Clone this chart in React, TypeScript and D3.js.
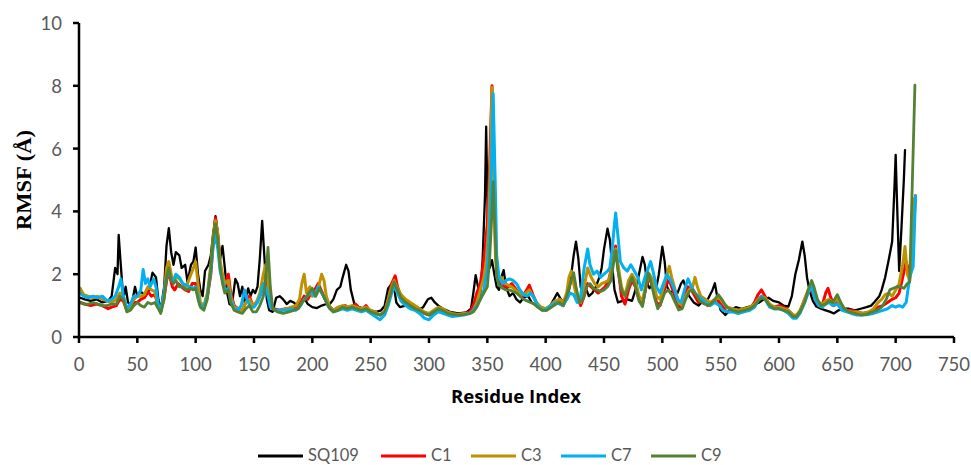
import React from "react";
import * as d3 from "d3";

type Pt = [number, number];

const xTicks = [0, 50, 100, 150, 200, 250, 300, 350, 400, 450, 500, 550, 600, 650, 700, 750];
const yTicks = [0, 2, 4, 6, 8, 10];

const seriesNames = ["SQ109", "C1", "C3", "C7", "C9"];
const seriesColors = ["#000000", "#FF0000", "#BF9000", "#00B0F0", "#548235"];

const sq109: Pt[] = [[1,1.25],[5,1.2],[10,1.15],[15,1.2],[20,1.1],[25,1.15],[28,1.3],[31,2.2],[33,2.0],[34,3.25],[36,2.2],[38,1.2],[40,1.6],[42,1.1],[45,1.0],[48,1.6],[50,1.3],[53,1.45],[57,1.3],[60,1.5],[63,2.05],[66,1.9],[68,1.2],[70,0.85],[73,1.6],[75,2.9],[77,3.47],[79,2.7],[81,2.3],[83,2.7],[86,2.6],[88,2.2],[91,2.3],[93,1.75],[96,2.3],[98,2.4],[100,2.85],[102,2.0],[104,1.5],[106,1.3],[108,2.1],[111,2.3],[113,2.6],[115,3.3],[117,3.85],[119,3.3],[121,2.5],[123,2.9],[125,2.2],[127,1.4],[129,1.05],[131,1.0],[134,1.85],[136,1.7],[138,1.3],[140,1.6],[142,1.1],[145,1.55],[147,1.3],[149,1.5],[151,1.4],[153,1.6],[155,2.5],[157,3.7],[159,2.5],[161,1.2],[163,0.85],[166,0.8],[169,1.25],[172,1.3],[175,1.2],[178,1.05],[181,1.15],[184,1.1],[187,1.0],[190,1.1],[193,1.25],[196,1.05],[200,0.95],[204,0.92],[208,1.0],[212,1.05],[215,1.05],[218,1.2],[221,1.5],[224,1.6],[226,1.9],[229,2.3],[231,2.1],[233,1.5],[236,1.05],[240,0.95],[245,0.9],[250,0.85],[255,0.8],[259,0.85],[262,1.0],[265,1.55],[268,1.7],[270,1.6],[272,1.1],[275,0.95],[280,1.0],[285,0.9],[290,0.85],[295,0.95],[299,1.2],[302,1.25],[305,1.1],[308,1.0],[312,0.9],[318,0.8],[325,0.75],[332,0.78],[336,0.9],[338,1.4],[340,1.97],[342,1.6],[344,1.3],[346,2.5],[348,4.5],[349,6.7],[350,4.5],[351,3.0],[352,2.2],[354,2.45],[356,2.0],[358,1.6],[360,1.5],[362,1.9],[364,2.13],[366,1.6],[369,1.3],[372,1.4],[375,1.2],[378,1.1],[381,1.25],[385,1.3],[388,1.1],[392,1.0],[396,0.95],[400,0.9],[404,1.0],[407,1.2],[410,1.4],[413,1.2],[416,1.1],[419,1.25],[422,2.0],[424,2.6],[426,3.04],[428,2.5],[430,1.6],[432,1.3],[435,1.5],[437,1.3],[440,1.4],[443,1.6],[446,1.9],[448,2.2],[450,2.8],[453,3.45],[455,3.1],[457,2.3],[459,1.5],[462,1.1],[466,1.15],[470,1.2],[474,1.15],[477,1.5],[480,2.0],[483,2.55],[485,2.3],[487,1.7],[489,1.55],[492,1.7],[495,1.6],[497,2.0],[500,2.88],[502,2.4],[504,1.6],[507,1.4],[510,1.5],[513,1.4],[516,1.7],[518,1.8],[520,1.6],[523,1.3],[527,1.1],[531,1.0],[535,1.15],[539,1.2],[543,1.5],[545,1.71],[547,1.3],[550,0.85],[554,0.7],[558,0.85],[563,0.95],[568,0.9],[573,0.95],[578,1.0],[583,1.1],[587,1.2],[591,1.25],[595,1.15],[600,1.1],[604,1.0],[608,0.97],[611,1.3],[614,2.0],[617,2.45],[620,3.04],[622,2.6],[624,1.9],[626,1.5],[629,1.15],[632,0.97],[636,0.9],[640,0.85],[644,0.8],[647,0.75],[651,0.85],[655,0.9],[660,0.9],[665,0.85],[670,0.9],[675,0.95],[679,1.0],[682,1.12],[686,1.3],[688,1.5],[691,1.9],[694,2.45],[697,3.04],[699,4.8],[700,5.8],[701,4.5],[703,2.1],[705,3.5],[707,5.0],[708,5.95]];

const c1: Pt[] = [[1,1.1],[5,1.05],[10,1.0],[15,1.05],[20,1.0],[25,0.9],[28,0.95],[32,1.0],[35,1.2],[38,1.15],[41,0.85],[44,0.9],[47,1.1],[50,1.1],[53,1.2],[56,1.25],[59,1.45],[62,1.3],[65,1.35],[68,1.0],[70,0.8],[73,1.3],[76,2.0],[78,1.9],[80,1.6],[82,1.5],[85,1.7],[88,1.6],[91,1.5],[94,1.45],[97,1.7],[100,1.7],[102,1.3],[104,1.0],[107,0.95],[110,1.3],[113,2.0],[115,3.0],[117,3.8],[119,3.2],[121,2.3],[123,1.9],[125,1.6],[128,2.0],[130,1.4],[133,1.0],[136,0.9],[140,0.85],[143,1.1],[146,1.3],[149,1.0],[152,1.1],[155,1.3],[158,1.6],[160,1.8],[162,1.5],[164,1.0],[167,0.9],[172,0.85],[177,0.9],[182,0.9],[186,0.95],[190,1.1],[193,1.3],[196,1.2],[199,1.4],[202,1.5],[205,1.7],[208,1.45],[211,1.2],[214,1.0],[218,0.85],[223,0.95],[228,1.0],[232,0.9],[237,1.05],[242,0.85],[246,1.0],[250,0.8],[254,0.75],[258,0.7],[262,0.8],[265,1.2],[268,1.7],[271,1.95],[273,1.6],[276,1.3],[280,1.15],[284,1.0],[288,0.95],[292,0.85],[296,0.75],[300,0.7],[304,0.75],[308,0.85],[312,0.8],[316,0.75],[320,0.7],[325,0.72],[330,0.75],[335,0.8],[338,1.0],[341,1.4],[344,1.7],[346,2.2],[348,2.8],[350,3.6],[352,5.5],[354,8.0],[356,5.0],[357,2.8],[359,2.0],[362,1.7],[365,1.6],[368,1.6],[371,1.7],[374,1.55],[377,1.4],[380,1.3],[383,1.45],[386,1.65],[389,1.35],[392,1.1],[396,0.9],[400,0.85],[404,0.95],[408,1.1],[412,1.2],[415,1.0],[418,1.25],[421,1.7],[424,1.9],[427,1.3],[430,1.0],[433,1.3],[436,1.7],[439,1.6],[442,1.5],[445,1.4],[448,1.5],[451,1.6],[454,1.8],[457,2.3],[460,2.9],[462,2.2],[465,1.3],[468,1.05],[471,1.5],[474,1.8],[477,1.6],[480,1.2],[483,1.05],[486,1.6],[489,1.9],[492,1.6],[495,1.1],[498,1.0],[501,1.4],[504,1.8],[507,1.7],[510,1.4],[513,1.0],[516,0.95],[519,1.3],[522,1.6],[525,1.5],[528,1.3],[531,1.1],[535,1.2],[539,1.0],[543,1.1],[547,1.2],[551,1.0],[555,0.8],[560,0.85],[565,0.8],[570,0.85],[575,0.9],[579,1.1],[582,1.35],[585,1.5],[588,1.3],[592,1.0],[596,0.95],[600,1.0],[604,0.95],[608,0.85],[612,0.7],[615,0.65],[618,0.8],[622,1.2],[625,1.45],[628,1.5],[631,1.2],[634,1.0],[637,1.0],[640,1.4],[642,1.55],[644,1.3],[647,1.0],[650,1.1],[654,0.9],[658,0.85],[662,0.85],[667,0.8],[672,0.75],[677,0.8],[681,0.85],[685,0.95],[689,1.0],[693,1.1],[697,1.2],[700,1.25],[703,1.4],[706,1.9],[709,2.4],[711,2.0],[713,2.4],[715,3.2],[717,4.5]];

const c3: Pt[] = [[1,1.55],[4,1.35],[8,1.3],[12,1.25],[16,1.3],[20,1.2],[24,1.15],[28,1.1],[32,1.2],[35,1.4],[38,1.3],[41,0.85],[44,1.0],[47,1.2],[50,1.3],[53,1.3],[56,1.35],[59,1.6],[62,1.5],[65,1.45],[68,1.0],[70,0.8],[73,1.4],[75,2.2],[77,2.4],[79,2.0],[81,1.8],[83,1.95],[86,1.85],[89,1.7],[92,1.6],[95,1.9],[98,2.2],[100,2.4],[102,1.7],[104,1.1],[107,1.0],[110,1.4],[113,2.3],[115,3.2],[117,3.7],[119,3.3],[121,2.4],[123,2.0],[125,1.7],[128,1.8],[130,1.3],[133,0.95],[137,0.9],[140,0.85],[143,1.1],[146,1.2],[149,1.0],[152,1.1],[155,1.4],[158,2.0],[160,2.3],[162,1.8],[164,1.0],[168,0.85],[173,0.85],[178,0.9],[182,0.95],[186,1.0],[189,1.2],[191,1.7],[193,2.0],[195,1.4],[198,1.6],[200,1.3],[203,1.4],[206,1.7],[208,2.0],[210,1.8],[212,1.3],[215,0.95],[218,0.85],[222,0.95],[226,1.0],[230,0.95],[234,1.0],[238,0.95],[242,0.9],[246,0.95],[250,0.85],[254,0.8],[258,0.7],[262,0.8],[265,1.2],[268,1.6],[270,1.8],[273,1.55],[276,1.35],[280,1.2],[284,1.1],[288,1.0],[292,0.9],[296,0.8],[300,0.75],[304,0.85],[308,0.95],[312,0.9],[316,0.8],[320,0.75],[325,0.72],[330,0.75],[335,0.75],[338,0.85],[341,1.1],[344,1.5],[347,1.9],[349,2.4],[351,3.5],[353,6.0],[354,7.95],[356,4.5],[357,2.5],[359,1.9],[362,1.9],[365,1.7],[368,1.65],[371,1.6],[374,1.5],[377,1.4],[380,1.35],[383,1.4],[386,1.5],[389,1.3],[392,1.1],[396,0.95],[400,0.9],[404,1.0],[408,1.15],[412,1.2],[415,1.1],[418,1.4],[420,1.9],[422,2.1],[424,1.7],[427,1.2],[430,1.1],[433,1.6],[436,2.2],[439,1.9],[442,1.7],[445,1.6],[448,1.7],[451,1.75],[454,1.8],[457,2.2],[460,2.8],[462,2.3],[465,1.6],[468,1.3],[471,1.8],[474,2.0],[477,1.8],[480,1.3],[483,1.15],[486,1.7],[489,2.0],[492,1.8],[495,1.3],[498,1.2],[501,1.6],[504,2.0],[506,2.25],[508,1.9],[511,1.5],[514,1.1],[517,1.0],[520,1.3],[523,1.5],[526,1.6],[528,1.9],[530,1.6],[533,1.3],[537,1.2],[541,1.1],[545,1.2],[549,1.25],[552,1.1],[556,0.95],[560,0.9],[565,0.85],[570,0.9],[575,0.95],[579,1.05],[582,1.2],[585,1.3],[588,1.25],[592,1.05],[596,0.95],[600,0.95],[604,0.9],[608,0.85],[612,0.7],[615,0.7],[618,0.85],[622,1.2],[625,1.5],[628,1.6],[631,1.3],[634,1.1],[637,1.05],[640,1.15],[643,1.2],[646,1.1],[650,1.2],[654,0.95],[658,0.85],[662,0.8],[667,0.8],[672,0.75],[677,0.8],[681,0.9],[685,1.1],[688,1.2],[691,1.35],[694,1.4],[697,1.3],[700,1.5],[703,1.7],[706,2.3],[708,2.88],[710,2.0],[712,1.8],[714,2.4],[716,4.4]];

const c7: Pt[] = [[1,1.4],[4,1.3],[8,1.25],[12,1.3],[16,1.25],[20,1.3],[24,1.15],[28,1.2],[31,1.3],[34,1.6],[36,1.85],[38,1.3],[41,0.9],[44,1.05],[47,1.3],[50,1.3],[53,1.5],[55,2.15],[57,1.7],[59,1.85],[61,1.6],[64,1.85],[66,1.6],[68,1.0],[70,0.8],[73,1.4],[75,1.9],[77,2.05],[79,1.85],[81,1.75],[83,2.0],[86,1.9],[89,1.7],[92,1.65],[95,1.6],[98,1.55],[100,1.6],[102,1.3],[104,1.0],[107,0.95],[110,1.3],[113,2.1],[115,2.9],[117,3.25],[119,2.8],[121,2.1],[123,1.8],[125,1.5],[128,1.55],[130,1.2],[133,0.9],[136,0.85],[139,1.0],[142,1.5],[144,1.2],[147,0.95],[150,0.95],[153,1.1],[156,1.4],[158,1.7],[160,1.6],[162,1.3],[164,0.95],[168,0.85],[173,0.85],[178,0.85],[182,0.9],[186,0.85],[190,1.0],[193,1.2],[196,1.3],[199,1.45],[202,1.3],[205,1.6],[208,1.4],[211,1.2],[214,0.95],[218,0.8],[222,0.85],[226,0.9],[230,0.85],[234,0.9],[238,0.85],[242,0.8],[246,0.85],[250,0.75],[254,0.65],[258,0.55],[262,0.7],[265,1.0],[268,1.4],[270,1.6],[273,1.4],[276,1.15],[280,1.0],[284,0.9],[288,0.85],[292,0.75],[296,0.6],[300,0.55],[304,0.7],[308,0.8],[312,0.75],[316,0.7],[320,0.65],[325,0.68],[330,0.7],[335,0.75],[338,0.85],[341,1.0],[344,1.2],[347,1.5],[350,2.2],[352,3.5],[354,6.0],[355,7.75],[357,4.5],[358,2.6],[360,1.9],[363,1.7],[366,1.8],[369,1.85],[372,1.8],[375,1.7],[378,1.5],[381,1.35],[384,1.3],[387,1.4],[390,1.25],[393,1.0],[397,0.85],[401,0.9],[405,1.0],[409,1.1],[412,1.05],[415,1.0],[418,1.2],[421,1.4],[424,1.35],[427,1.1],[430,1.3],[433,2.2],[436,2.8],[438,2.3],[441,2.0],[444,2.1],[447,1.9],[450,2.0],[453,2.1],[455,2.2],[457,2.8],[459,3.6],[460,3.95],[462,3.2],[464,2.4],[467,2.2],[470,2.1],[473,2.3],[476,2.1],[479,1.9],[482,1.5],[485,1.9],[488,2.2],[490,2.4],[492,2.1],[495,1.6],[498,1.4],[501,1.7],[504,2.0],[507,1.8],[510,1.55],[513,1.2],[516,1.1],[519,1.5],[522,1.85],[525,1.6],[528,1.4],[531,1.3],[534,1.2],[537,1.1],[541,1.0],[545,1.1],[549,1.0],[552,0.85],[556,0.8],[560,0.8],[565,0.75],[570,0.8],[575,0.85],[579,0.95],[582,1.15],[585,1.3],[588,1.2],[592,0.95],[596,0.9],[600,0.9],[604,0.85],[608,0.75],[612,0.6],[615,0.6],[618,0.75],[622,1.1],[625,1.4],[628,1.6],[631,1.2],[634,1.0],[637,0.95],[640,1.05],[643,1.1],[646,1.0],[650,1.05],[654,0.85],[658,0.8],[662,0.75],[667,0.7],[672,0.7],[677,0.72],[681,0.75],[685,0.8],[689,0.85],[693,0.9],[697,1.0],[700,0.95],[703,1.0],[706,0.95],[709,1.1],[712,1.9],[715,2.25],[717,4.5]];

const c9: Pt[] = [[1,1.1],[4,1.05],[8,1.05],[12,1.1],[16,1.05],[20,1.0],[24,1.0],[28,1.05],[32,1.05],[35,1.3],[38,1.2],[41,0.8],[44,0.85],[47,1.0],[50,1.1],[53,1.0],[56,0.95],[59,1.1],[62,1.05],[65,1.1],[68,0.9],[70,0.75],[73,1.2],[75,1.9],[77,2.2],[79,1.8],[81,1.7],[83,1.8],[86,1.6],[89,1.6],[92,1.5],[95,1.55],[98,1.5],[100,1.55],[102,1.2],[104,0.95],[107,0.85],[110,1.2],[113,2.2],[115,3.1],[117,3.6],[119,3.1],[121,2.2],[123,1.7],[125,1.4],[128,1.5],[130,1.1],[133,0.85],[136,0.8],[140,0.75],[143,0.9],[146,1.0],[149,0.8],[152,0.8],[155,1.0],[158,1.3],[160,1.8],[162,2.85],[164,1.6],[166,0.9],[170,0.8],[175,0.75],[180,0.8],[184,0.85],[188,0.9],[191,1.1],[194,1.2],[197,1.4],[200,1.55],[203,1.3],[206,1.55],[209,1.35],[212,1.1],[215,0.9],[218,0.8],[222,0.85],[226,0.95],[230,0.9],[234,0.95],[238,0.9],[242,0.85],[246,0.9],[250,0.8],[254,0.75],[258,0.7],[262,0.8],[265,1.1],[268,1.5],[270,1.75],[273,1.5],[276,1.25],[280,1.1],[284,1.0],[288,0.9],[292,0.85],[296,0.75],[300,0.7],[304,0.8],[308,0.9],[312,0.85],[316,0.75],[320,0.72],[325,0.7],[330,0.72],[335,0.75],[338,0.8],[341,0.95],[344,1.2],[347,1.4],[350,1.6],[352,2.5],[354,4.0],[355,4.95],[357,3.0],[358,1.9],[360,1.65],[363,1.55],[366,1.5],[369,1.5],[372,1.45],[375,1.4],[378,1.3],[381,1.2],[384,1.15],[387,1.1],[390,1.05],[393,0.95],[397,0.85],[401,0.85],[405,0.95],[409,1.05],[412,1.1],[415,1.0],[418,1.3],[421,1.7],[424,2.05],[426,1.6],[429,1.1],[432,1.2],[435,1.6],[438,1.7],[441,1.55],[444,1.5],[447,1.45],[450,1.5],[453,1.6],[456,1.8],[458,2.3],[460,2.75],[462,2.1],[465,1.5],[468,1.3],[471,1.6],[474,1.9],[477,1.6],[480,1.15],[483,0.97],[486,1.6],[488,2.05],[490,1.8],[493,1.3],[496,0.9],[499,1.1],[502,1.4],[505,1.5],[508,1.35],[511,1.1],[514,0.86],[517,0.9],[520,1.2],[523,1.45],[526,1.5],[529,1.35],[532,1.15],[536,1.05],[540,1.0],[544,1.15],[548,1.35],[551,1.2],[555,0.95],[560,0.85],[565,0.8],[570,0.85],[575,0.9],[579,1.0],[582,1.15],[585,1.25],[588,1.2],[592,1.0],[596,0.9],[600,0.9],[604,0.85],[608,0.8],[612,0.65],[615,0.65],[618,0.8],[622,1.1],[625,1.5],[628,1.8],[630,1.6],[633,1.2],[636,1.0],[640,1.05],[643,1.15],[646,1.1],[650,1.35],[653,1.1],[656,0.9],[660,0.8],[665,0.75],[670,0.7],[675,0.72],[680,0.8],[684,0.85],[688,0.95],[692,1.2],[695,1.5],[698,1.55],[701,1.6],[704,1.6],[707,1.55],[710,1.7],[712,1.75],[716.5,8.02]];

const allSeries = [sq109, c1, c3, c7, c9];
const lineWidths = [2.3, 3, 3, 3, 2.8];

const legendX = [258, 381, 471, 561, 651];

export default function App() {
  const x = d3.scaleLinear().domain([0, 750]).range([79, 954]);
  const y = d3.scaleLinear().domain([0, 10]).range([337, 23]);
  const line = d3
    .line<Pt>()
    .x((d) => x(d[0]))
    .y((d) => y(d[1]))
    .curve(d3.curveLinear);

  const tickFont = "Lato, 'Open Sans', sans-serif";
  const grey = "#595959";

  return (
    <svg
      width={971}
      height={465}
      style={{ position: "absolute", left: 0, top: 0, background: "#fff" }}
    >
      <rect x={0} y={0} width={971} height={465} fill="#fff" />
      {allSeries.map((s, i) => (
        <path
          key={seriesNames[i]}
          d={line(s) || ""}
          fill="none"
          stroke={seriesColors[i]}
          strokeWidth={lineWidths[i]}
          strokeLinejoin="round"
          strokeLinecap="round"
        />
      ))}
      {/* axes */}
      <line x1={x(0)} x2={x(750)} y1={y(0)} y2={y(0)} stroke="#000" strokeWidth={2.5} />
      <line x1={x(0)} x2={x(0)} y1={y(0) + 1.25} y2={y(10)} stroke="#000" strokeWidth={2.5} />
      {yTicks.map((t) => (
        <g key={"y" + t}>
          <line x1={x(0) - 6} x2={x(0)} y1={y(t)} y2={y(t)} stroke="#000" strokeWidth={2.5} />
          <text
            x={62}
            y={y(t)}
            textAnchor="end"
            dominantBaseline="central"
            fontFamily={tickFont}
            fontSize={18.5}
            fill={grey}
          >
            {t}
          </text>
        </g>
      ))}
      {xTicks.map((t) => (
        <g key={"x" + t}>
          <line x1={x(t)} x2={x(t)} y1={y(0)} y2={y(0) + 6} stroke="#000" strokeWidth={2.5} />
          <text
            x={x(t)}
            y={364}
            textAnchor="middle"
            dominantBaseline="central"
            fontFamily={tickFont}
            fontSize={18.5}
            fill={grey}
          >
            {t}
          </text>
        </g>
      ))}
      <text
        x={516}
        y={396}
        textAnchor="middle"
        dominantBaseline="central"
        fontFamily="'Open Sans', Lato, sans-serif"
        fontWeight="bold"
        fontSize={18}
        fill="#000"
        textLength={130}
        lengthAdjust="spacingAndGlyphs"
      >
        Residue Index
      </text>
      <text
        transform={`translate(24, 180) rotate(-90)`}
        textAnchor="middle"
        dominantBaseline="central"
        fontFamily="'Liberation Serif', 'DejaVu Serif', serif"
        fontWeight="bold"
        fontSize={21}
        fill="#000"
        textLength={100}
        lengthAdjust="spacingAndGlyphs"
      >
        RMSF (Å)
      </text>
      {seriesNames.map((n, i) => (
        <g key={"lg" + n}>
          <line
            x1={legendX[i]}
            x2={legendX[i] + 45}
            y1={456}
            y2={456}
            stroke={seriesColors[i]}
            strokeWidth={2.8}
          />
          <text
            x={legendX[i] + 50}
            y={461}
            fontFamily={tickFont}
            fontSize={16.5}
            fill={grey}
          >
            {n}
          </text>
        </g>
      ))}
    </svg>
  );
}
